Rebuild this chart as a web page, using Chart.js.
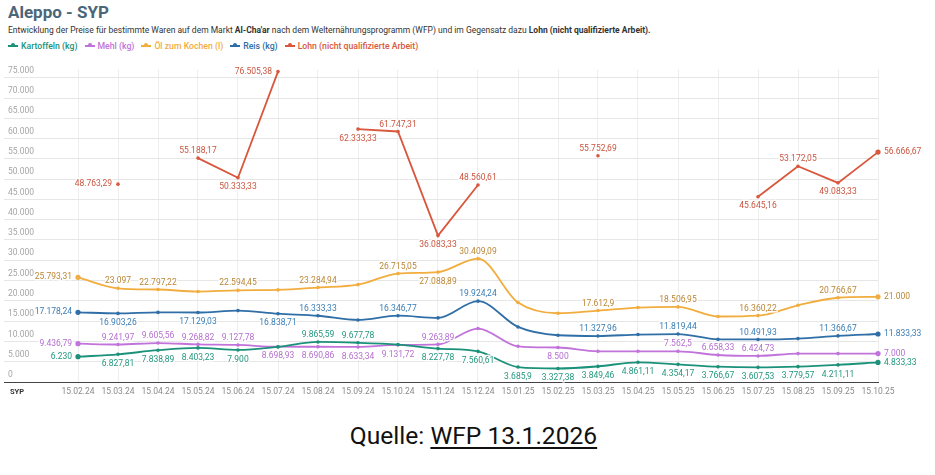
<!DOCTYPE html>
<html>
<head>
<meta charset="utf-8">
<script src="https://cdn.jsdelivr.net/npm/chart.js@4.4.1/dist/chart.umd.min.js"></script>
<style>
  html, body { margin: 0; padding: 0; background: #fff; }
  body { width: 935px; height: 475px; position: relative; overflow: hidden; font-family: Roboto, "Noto Sans", sans-serif; }
  #title { position: absolute; left: 8px; top: 2px; font-size: 17px; line-height: 20px; font-weight: 700; color: #4c6679; }
  #desc { position: absolute; left: 8px; top: 24px; font-size: 8.5px; line-height: 12px; color: #333; white-space: nowrap; }
  #legend { position: absolute; left: 8px; top: 40px; font-size: 8.7px; line-height: 12px; font-weight: 500; white-space: nowrap; }
  #legend span.item { display: inline-block; margin-right: 7px; }
  #legend i { display: inline-block; position: relative; width: 10px; height: 2px; margin-right: 3px; vertical-align: middle; top: -1px; }
  #legend i b { position: absolute; left: 3px; top: -2px; width: 4px; height: 4px; border-radius: 50%; background: inherit; }
  #wrap { position: absolute; left: 0; top: 60px; width: 935px; height: 340px; }
  #source { position: absolute; left: 6px; width: 935px; top: 421px; text-align: center; font-size: 24.6px; color: #111; }
  #source u { text-decoration-thickness: 2px; text-underline-offset: 3px; }
</style>
</head>
<body>
<div id="title">Aleppo - SYP</div>
<div id="desc">Entwicklung der Preise für bestimmte Waren auf dem Markt <b>Al-Cha'ar</b> nach dem Welternährungsprogramm (WFP) und im Gegensatz dazu <b>Lohn (nicht qualifizierte Arbeit).</b></div>
<div id="legend"></div>
<div id="wrap"><canvas id="chart"></canvas></div>
<div id="source">Quelle: <u>WFP 13.1.2026</u></div>

<script>
// Monatswerte (SYP), Stichtag jeweils der 15.
const months = ['15.02.24', '15.03.24', '15.04.24', '15.05.24', '15.06.24', '15.07.24', '15.08.24',
  '15.09.24', '15.10.24', '15.11.24', '15.12.24', '15.01.25', '15.02.25', '15.03.25', '15.04.25',
  '15.05.25', '15.06.25', '15.07.25', '15.08.25', '15.09.25', '15.10.25'];

const kartoffeln = [6230, 6827.81, 7838.89, 8403.23, 7900, 8650, 9865.59, 9677.78, 9230, 8227.78, 7560.61,
  3685.9, 3327.38, 3849.46, 4861.11, 4354.17, 3766.67, 3607.53, 3779.57, 4211.11, 4833.33];
const mehl = [9436.79, 9241.97, 9605.56, 9268.82, 9127.78, 8698.93, 8690.86, 8633.34, 9131.72, 9263.89, 13170,
  8800, 8500, 7570, 7570, 7562.5, 6658.33, 6424.73, 7000, 7000, 7000];
const oel = [25793.31, 23097, 22797.22, 22300, 22594.45, 22700, 23284.94, 24000, 26715.05, 27088.89, 30409.09,
  19600, 16950, 17612.9, 18350, 18506.95, 16150, 16360.22, 18900, 20766.67, 21000];
const reis = [17178.24, 16903.26, 17150, 17129.03, 17600, 16838.71, 16333.33, 15300, 16346.77, 15800, 19924.24,
  13570, 11520, 11327.96, 11700, 11819.44, 10530, 10491.93, 10700, 11366.67, 11833.33];
const lohn = [null, 48763.29, null, 55188.17, 50333.33, 76505.38, null, 62333.33, 61747.31, 36083.33, 48560.61,
  null, null, 55752.69, null, null, null, 45645.16, 53172.05, 49083.33, 56666.67];

const yTicks = [0, 5000, 10000, 15000, 20000, 25000, 30000, 35000, 40000, 45000, 50000, 55000, 60000, 65000, 70000, 75000];

// welche Punkte beschriftet werden und wohin: T oben, B unten, L links, R rechts
const labelAt = {
  kartoffeln: 'LBBBB.TT.BBBBBBBBBBBR',
  mehl:       'LTTTTBBBBT..B..TTT..R',
  oel:        'LTT.T.T.TBT..T.T.T.TR',
  reis:       'LB.B.BT.T.T..T.T.T.TR',
  lohn:       '.L.TBL.BTBT..T...BTBR'
};

const series = [
  { key: 'kartoffeln', label: 'Kartoffeln (kg)', data: kartoffeln, color: '#1b917a', text: '#23977e', smooth: true },
  { key: 'mehl', label: 'Mehl (kg)', data: mehl, color: '#c173da', text: '#b56fd0', smooth: true },
  { key: 'oel', label: 'Öl zum Kochen (l)', data: oel, color: '#f2ad3f', text: '#bb8636', smooth: true },
  { key: 'reis', label: 'Reis (kg)', data: reis, color: '#2f6ea6', text: '#3a7cb3', smooth: true },
  { key: 'lohn', label: 'Lohn (nicht qualifizierte Arbeit)', data: lohn, color: '#d8573d', text: '#c9553f', smooth: false }
];

function fmt(v) {
  const neg = v < 0;
  v = Math.abs(v);
  let [int, dec] = (Math.round(v * 100) / 100).toString().split('.');
  int = int.replace(/\B(?=(\d{3})+(?!\d))/g, '.');
  return (neg ? '-' : '') + int + (dec ? ',' + dec : '');
}

// HTML legend
const legend = document.getElementById('legend');
series.forEach(s => {
  const el = document.createElement('span');
  el.className = 'item';
  el.style.color = s.color;
  el.innerHTML = '<i style="background:' + s.color + '"><b></b></i>' + s.label;
  legend.appendChild(el);
});

// draws the value labels next to the points, with a white halo
const valueLabels = {
  id: 'valueLabels',
  afterDatasetsDraw(chart) {
    const ctx = chart.ctx;
    ctx.save();
    ctx.font = '8.5px Roboto, "Noto Sans", sans-serif';
    ctx.textBaseline = 'middle';
    ctx.lineJoin = 'round';
    chart.data.datasets.forEach((ds, i) => {
      const meta = chart.getDatasetMeta(i);
      const where = labelAt[ds.key];
      meta.data.forEach((pt, j) => {
        const pos = where[j];
        const v = ds.data[j].y;
        if (!pos || pos === '.' || v == null) return;
        let x = pt.x, y = pt.y;
        if (pos === 'T') { ctx.textAlign = 'center'; y -= 7; }
        else if (pos === 'B') { ctx.textAlign = 'center'; y += 9.5; }
        else if (pos === 'L') { ctx.textAlign = 'right'; x -= 6; }
        else { ctx.textAlign = 'left'; x += 6; }
        const txt = fmt(v);
        ctx.strokeStyle = 'rgba(255,255,255,0.9)';
        ctx.lineWidth = 3;
        ctx.strokeText(txt, x, y);
        ctx.fillStyle = ds.textColor;
        ctx.fillText(txt, x, y);
      });
    });
    // Einheit unten links
    ctx.font = 'bold 7.5px Roboto, "Noto Sans", sans-serif';
    ctx.textAlign = 'left';
    ctx.fillStyle = '#333';
    ctx.fillText('SYP', chart.chartArea.left + 6, chart.chartArea.bottom + 10);
    ctx.restore();
  }
};

new Chart(document.getElementById('chart'), {
  type: 'line',
  data: {
    datasets: series.map(s => ({
      key: s.key,
      label: s.label,
      data: s.data.map((v, i) => ({ x: i, y: v })),
      borderColor: s.color,
      backgroundColor: s.color,
      textColor: s.text,
      borderWidth: 1.8,
      pointRadius: ctx => (ctx.dataIndex === 0 || ctx.dataIndex === months.length - 1) ? 2.6 : 1.8,
      pointBorderWidth: 0,
      pointHoverRadius: 3,
      cubicInterpolationMode: s.smooth ? 'monotone' : 'default',
      tension: 0,
      spanGaps: false,
      clip: false
    }))
  },
  options: {
    responsive: true,
    maintainAspectRatio: false,
    animation: false,
    layout: { padding: { left: 4, right: 57, top: 9.6, bottom: 0 } },
    plugins: {
      legend: { display: false },
      tooltip: { enabled: false }
    },
    scales: {
      x: {
        type: 'linear',
        min: -1.85,
        max: months.length - 1,
        afterBuildTicks: scale => { scale.ticks = months.map((m, i) => ({ value: i })); },
        afterFit: scale => { scale.height = 18; },
        grid: { color: '#eeeeee', drawTicks: false },
        border: { color: '#444', width: 1 },
        ticks: {
          padding: 5,
          maxRotation: 0,
          autoSkip: false,
          color: '#8a8a8a',
          font: { family: 'Roboto', size: 8.5 },
          callback: value => months[value] || ''
        }
      },
      y: {
        min: 0,
        max: 77000,
        afterBuildTicks: scale => { scale.ticks = yTicks.map(v => ({ value: v })); },
        afterFit: scale => { scale.width = 0; },
        grid: { color: '#e6e6e6', drawTicks: false },
        border: { display: false },
        ticks: {
          mirror: true,
          padding: 4,
          labelOffset: -7,
          color: '#a5a5a5',
          font: { family: 'Roboto', size: 8.5 },
          callback: value => fmt(value)
        }
      }
    }
  },
  plugins: [valueLabels]
});
</script>
</body>
</html>
